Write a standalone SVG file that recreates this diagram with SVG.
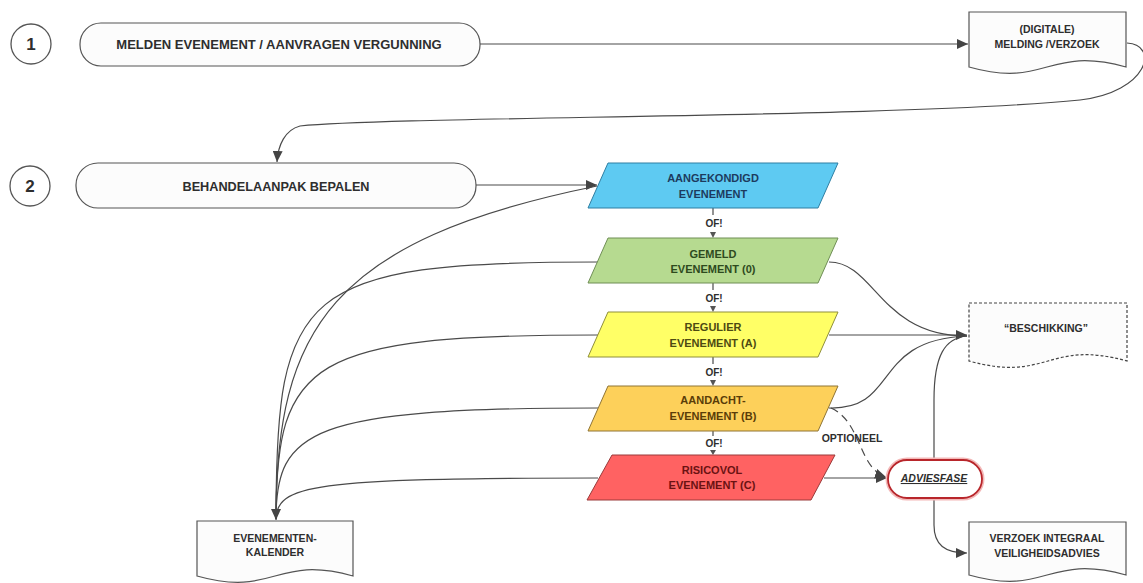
<svg xmlns="http://www.w3.org/2000/svg" width="1143" height="583" viewBox="0 0 1143 583">
<style>
  .t{font-family:"Liberation Sans",Arial,sans-serif;font-weight:bold;text-anchor:middle;fill:#2e2e2e}
  .box{fill:#fcfcfc;stroke:#555;stroke-width:1.2}
  .doc{fill:#fcfcfc;stroke:#555;stroke-width:1.2}
  .num{fill:#fff;stroke:#555;stroke-width:1.3}
  .c{fill:none;stroke:#4a4a4a;stroke-width:1.2}
  .arr{marker-end:url(#ah)}
  .par{stroke-width:1}
</style>
<defs>
  <marker id="ah" markerUnits="userSpaceOnUse" markerWidth="12" markerHeight="10" refX="11" refY="5" orient="auto">
    <path d="M0,0 L11,5 L0,10 z" fill="#444"/>
  </marker>
</defs>
<rect width="1143" height="583" fill="#fff"/>

<g id="connectors">
  <path class="c arr" d="M480,44 L968,44"/>
  <path class="c arr" d="M1127,43 C1160,45 1148,92 1080,100 C900,118 400,116 300,126 C285,130 278,145 277,162"/>
  <path class="c arr" d="M476,185 L597,185"/>
  <path class="c" d="M597,186 C330,240 276,330 276,519"/>
  <path class="c" d="M598,262 C300,262 276,290 276,519"/>
  <path class="c" d="M598,335 C310,335 276,360 276,519"/>
  <path class="c" d="M598,408 C310,408 276,430 276,519"/>
  <path class="c arr" d="M598,478 C310,478 276,485 276,520"/>
  <path class="c" d="M829,262 C875,262 880,336 967,336"/>
  <path class="c" d="M829,408 C900,410 870,340 967,336"/>
  <path class="c" d="M934,460 L934,400 C934,355 945,338 967,336"/>
  <path class="c arr" d="M829,335 L967,335"/>
  <path class="c arr" d="M934,498 L934,525 C934,545 945,553 967,553"/>
  <path class="c arr" d="M824,478 L887,478"/>
  <path class="c arr" d="M831,408 C862,422 858,468 886,477" stroke-dasharray="8 5"/>
  <text class="t" x="852" y="442" font-size="10.5">OPTIONEEL</text>
  <g fill="#555">
    <path class="c" d="M713,208 L713,215"/>
    <text class="t" x="714" y="227" font-size="10">OF!</text>
    <path d="M710,232 L716,232 L713,238 z"/>
    <path class="c" d="M713,283 L713,290"/>
    <text class="t" x="714" y="301.5" font-size="10">OF!</text>
    <path d="M710,306 L716,306 L713,312 z"/>
    <path class="c" d="M713,357 L713,364"/>
    <text class="t" x="714" y="375.5" font-size="10">OF!</text>
    <path d="M710,380 L716,380 L713,386 z"/>
    <path class="c" d="M713,431 L713,436"/>
    <text class="t" x="714" y="447" font-size="10">OF!</text>
    <path d="M710,450 L716,450 L713,455 z"/>
  </g>
</g>

<g id="num1">
  <circle class="num" cx="31" cy="44" r="20"/>
  <text class="t" x="31" y="50" font-size="17">1</text>
</g>
<g id="num2">
  <circle class="num" cx="30" cy="186" r="20"/>
  <text class="t" x="30" y="192" font-size="17">2</text>
</g>

<g id="melden">
  <rect class="box" x="80" y="23" width="400" height="43" rx="21"/>
  <text class="t" x="279" y="49" font-size="13">MELDEN EVENEMENT / AANVRAGEN VERGUNNING</text>
</g>
<g id="behandel">
  <rect class="box" x="76" y="163" width="400" height="45" rx="22"/>
  <text class="t" x="276" y="191" font-size="12.7">BEHANDELAANPAK BEPALEN</text>
</g>

<g id="digitale">
  <path class="doc" d="M969,12 H1126 V67 C1047,45 1047,89 969,67 Z"/>
  <text class="t" x="1047" y="33" font-size="10.5">(DIGITALE)</text>
  <text class="t" x="1047" y="48" font-size="10.5">MELDING /VERZOEK</text>
</g>

<g id="aangekondigd">
  <polygon class="par" points="608,163 838,163 818,208 588,208" fill="#5ecaf2" stroke="#2f7fa3"/>
  <text class="t" x="713" y="182" font-size="11" style="fill:#1d3b5e">AANGEKONDIGD</text>
  <text class="t" x="713" y="198" font-size="11" style="fill:#1d3b5e">EVENEMENT</text>
</g>
<g id="gemeld">
  <polygon class="par" points="608,238 838,238 818,283 588,283" fill="#b6da90" stroke="#6f8e55"/>
  <text class="t" x="713" y="258" font-size="11" style="fill:#2e4a1e">GEMELD</text>
  <text class="t" x="713" y="273" font-size="11" style="fill:#2e4a1e">EVENEMENT (0)</text>
</g>
<g id="regulier">
  <polygon class="par" points="608,312 838,312 818,357 588,357" fill="#ffff66" stroke="#8f8f3a"/>
  <text class="t" x="713" y="331" font-size="11" style="fill:#4d4a12">REGULIER</text>
  <text class="t" x="713" y="347" font-size="11" style="fill:#4d4a12">EVENEMENT (A)</text>
</g>
<g id="aandacht">
  <polygon class="par" points="608,386 838,386 818,431 588,431" fill="#fdd05a" stroke="#8f7435"/>
  <text class="t" x="713" y="404" font-size="11" style="fill:#5a3c08">AANDACHT-</text>
  <text class="t" x="713" y="420" font-size="11" style="fill:#5a3c08">EVENEMENT (B)</text>
</g>
<g id="risicovol">
  <polygon class="par" points="612,455 835,455 811,500 587,500" fill="#ff6262" stroke="#9a3a3a"/>
  <text class="t" x="712" y="474" font-size="11" style="fill:#6a1212">RISICOVOL</text>
  <text class="t" x="712" y="489" font-size="11" style="fill:#6a1212">EVENEMENT (C)</text>
</g>

<g id="beschikking">
  <path d="M969,303 H1127 V361 C1048,339 1048,383 969,361 Z" fill="#fcfcfc" stroke="#444" stroke-width="1.2" stroke-dasharray="3 2"/>
  <text class="t" x="1046" y="332" font-size="10.5">“BESCHIKKING”</text>
</g>

<g id="adviesfase">
  <rect x="888" y="460" width="94" height="38" rx="19" fill="none" stroke="#f3b8b8" stroke-width="5"/>
  <rect x="888" y="460" width="94" height="38" rx="19" fill="#fff" stroke="#b8262b" stroke-width="1.8"/>
  <text class="t" x="934" y="482" font-size="10.5" font-style="italic" text-decoration="underline">ADVIESFASE</text>
</g>

<g id="verzoek">
  <path class="doc" d="M969,522 H1126 V575 C1047,553 1047,597 969,575 Z"/>
  <text class="t" x="1047" y="542" font-size="10.5">VERZOEK INTEGRAAL</text>
  <text class="t" x="1047" y="557" font-size="10.5">VEILIGHEIDSADVIES</text>
</g>

<g id="kalender">
  <path class="doc" d="M197,521 H353 V576 C275,554 275,598 197,576 Z"/>
  <text class="t" x="275" y="542" font-size="10.5">EVENEMENTEN-</text>
  <text class="t" x="275" y="556" font-size="10.5">KALENDER</text>
</g>
</svg>
